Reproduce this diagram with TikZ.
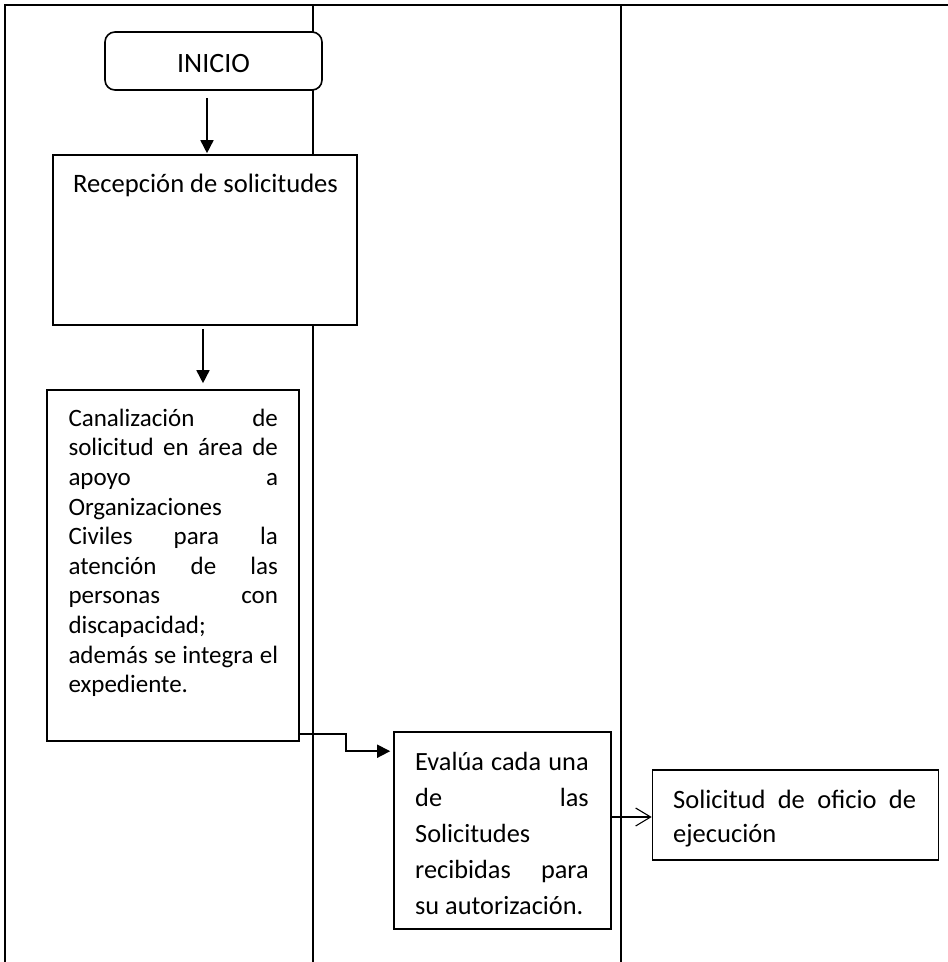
\documentclass[tikz,border=0pt]{standalone}
\usepackage{fontspec}
\setmainfont{Carlito}
\usetikzlibrary{arrows.meta}
\newcommand\jline[2]{\makebox[#1][s]{#2}}
\begin{document}
\begin{tikzpicture}[x=1pt,y=-1pt,
  frame/.style={line width=2.3pt},
  box/.style={draw, fill=white, line width=1.6pt, inner sep=0pt},
  rbox/.style={box, rounded corners=10pt},
  txt/.style={inner sep=0pt, anchor=north west, align=left},
  arr/.style={line width=1.6pt, -{Triangle[length=13pt,width=13pt]}},
  oarr/.style={line width=1.1pt, -{Straight Barb[length=15pt,width=18pt,line width=1.1pt]}}]
\useasboundingbox (0,0) rectangle (948,962);
% frame and lanes
\draw[frame] (5,962) -- (5,5) -- (948,5);
\draw[frame] (313,5) -- (313,962);
\draw[frame] (621,5) -- (621,962);
% boxes
\node[rbox, minimum width=217pt, minimum height=58pt, text height=24pt, font=\fontsize{28}{34}\selectfont] (inicio) at (213.5,61) {INICIO};
\node[box, minimum width=304pt, minimum height=170pt] (recep) at (205,240) {};
\node[txt, font=\fontsize{26.6}{32}\selectfont] (recept) at (73,169.6) {\strut Recepción de solicitudes};
\node[box, minimum width=252pt, minimum height=351pt] (canal) at (173,565.5) {};
\node[txt, font=\fontsize{25}{29.6}\selectfont] (canalt) at (68.3,405.3) {%
\strut\jline{209.5pt}{Canalización de}\\
\jline{209.5pt}{solicitud en área de}\\
\jline{209.5pt}{apoyo a}\\
Organizaciones\\
\jline{209.5pt}{Civiles para la}\\
\jline{209.5pt}{atención de las}\\
\jline{209.5pt}{personas con}\\
discapacidad;\\
\jline{209.5pt}{además se integra el}\\
expediente.};
\node[box, minimum width=217pt, minimum height=197pt] (eval) at (502.5,830.5) {};
\node[txt, font=\fontsize{26.3}{36}\selectfont] (evalt) at (415,744.8) {%
\strut\jline{173.5pt}{Evalúa cada una}\\
\jline{173.5pt}{de las}\\
Solicitudes\\
\jline{173.5pt}{recibidas para}\\
su autorización.};
\node[box, minimum width=286pt, minimum height=90pt] (sol) at (795.5,815) {};
\node[txt, font=\fontsize{26.5}{34}\selectfont] (solt) at (673,784.2) {%
\strut\jline{243pt}{Solicitud de oficio de}\\
ejecución};
% connectors
\draw[arr] ([xshift=-6.5pt,yshift=-7pt]inicio.south) -- ([xshift=2pt,yshift=1pt]recep.north);
\draw[arr] ([xshift=-2pt,yshift=-3pt]recep.south) -- ([xshift=30pt,yshift=6pt]canal.north);
\draw[arr] ([yshift=8pt]canal.south east) -- ++(46,0) |- ([xshift=-3pt,yshift=-20pt]eval.north west);
\draw[oarr] ([yshift=13.5pt]eval.east) -- ([yshift=-2pt]sol.west);
\end{tikzpicture}
\end{document}
